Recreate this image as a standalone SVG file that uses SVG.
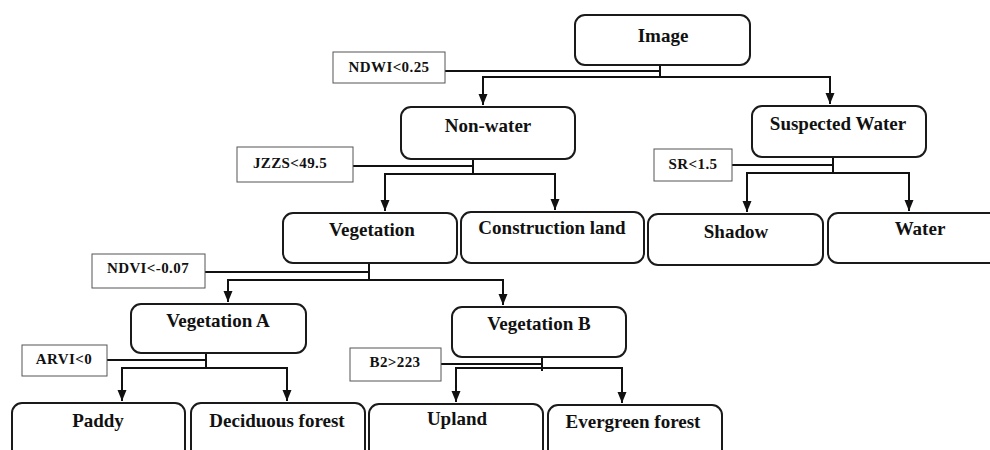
<svg xmlns="http://www.w3.org/2000/svg" width="990" height="450" viewBox="0 0 990 450">
<style>
.node rect{fill:#fff;stroke:#1a1a1a;stroke-width:2}
.node text{font-family:"Liberation Serif","Times New Roman",serif;font-weight:bold;font-size:19px;fill:#111;text-anchor:middle}
.cond rect{fill:#fff;stroke:#555;stroke-width:1}
.cond text{font-family:"Liberation Serif","Times New Roman",serif;font-weight:bold;font-size:15px;fill:#111;text-anchor:middle;letter-spacing:0.4px}
#connectors line{stroke:#111;stroke-width:2;fill:none}
#connectors line.arr{marker-end:url(#ah)}
</style>
<defs>
<marker id="ah" markerUnits="userSpaceOnUse" markerWidth="12" markerHeight="10" viewBox="0 0 12 10" refX="11" refY="5" orient="auto">
<path d="M0,0.5 L11,5 L0,9.5 Z" fill="#111"/>
</marker>
</defs>
<rect width="990" height="450" fill="#fff"/>
<g id="connectors">
<line x1="445" y1="71" x2="660" y2="71"/><line x1="660" y1="65" x2="660" y2="77"/><line x1="482" y1="77" x2="831" y2="77"/>
<line class="arr" x1="483" y1="76" x2="483" y2="105"/><line class="arr" x1="830" y1="76" x2="830" y2="104"/>
<line x1="353" y1="166" x2="473" y2="166"/><line x1="473" y1="159" x2="473" y2="174"/><line x1="384" y1="174" x2="556" y2="174"/>
<line class="arr" x1="385" y1="173" x2="385" y2="211"/><line class="arr" x1="555" y1="173" x2="555" y2="210"/>
<line x1="732" y1="165" x2="833" y2="165"/><line x1="833" y1="157" x2="833" y2="173"/><line x1="746" y1="173" x2="910" y2="173"/>
<line class="arr" x1="747" y1="172" x2="747" y2="212"/><line class="arr" x1="909" y1="172" x2="909" y2="211"/>
<line x1="205" y1="272" x2="369" y2="272"/><line x1="369" y1="263" x2="369" y2="280"/><line x1="227" y1="280" x2="504" y2="280"/>
<line class="arr" x1="228" y1="279" x2="228" y2="302"/><line class="arr" x1="503" y1="279" x2="503" y2="305"/>
<line x1="107" y1="360" x2="206" y2="360"/><line x1="206" y1="353" x2="206" y2="368"/><line x1="121" y1="368" x2="288" y2="368"/>
<line class="arr" x1="122" y1="367" x2="122" y2="401"/><line class="arr" x1="287" y1="367" x2="287" y2="401"/>
<line x1="441" y1="364" x2="542" y2="364"/><line x1="542" y1="357" x2="542" y2="371"/><line x1="455" y1="368" x2="623" y2="368"/>
<line class="arr" x1="456" y1="367" x2="456" y2="402"/><line class="arr" x1="622" y1="367" x2="622" y2="403"/>
</g>
<g id="image" class="node"><rect x="575" y="15" width="175" height="50" rx="10"/><text x="663" y="42">Image</text></g>
<g id="nonwater" class="node"><rect x="401" y="107" width="174" height="52" rx="10"/><text x="488" y="132">Non-water</text></g>
<g id="suspected" class="node"><rect x="752" y="106" width="174" height="51" rx="10"/><text x="838" y="130">Suspected Water</text></g>
<g id="vegetation" class="node"><rect x="283" y="213" width="174" height="50" rx="10"/><text x="372" y="236">Vegetation</text></g>
<g id="construction" class="node"><rect x="461" y="212" width="183" height="51" rx="10"/><text x="552" y="234">Construction land</text></g>
<g id="shadow" class="node"><rect x="648" y="214" width="175" height="51" rx="10"/><text x="736" y="238">Shadow</text></g>
<g id="water" class="node"><rect x="828" y="213" width="175" height="50" rx="10"/><text x="920" y="235">Water</text></g>
<g id="vegA" class="node"><rect x="131" y="304" width="175" height="49" rx="10"/><text x="218" y="327">Vegetation A</text></g>
<g id="vegB" class="node"><rect x="452" y="307" width="174" height="50" rx="10"/><text x="539" y="330">Vegetation B</text></g>
<g id="paddy" class="node"><rect x="12" y="403" width="173" height="60" rx="10"/><text x="98" y="427">Paddy</text></g>
<g id="deciduous" class="node"><rect x="191" y="403" width="174" height="60" rx="10"/><text x="277" y="427">Deciduous forest</text></g>
<g id="upland" class="node"><rect x="369" y="404" width="174" height="60" rx="10"/><text x="457" y="425">Upland</text></g>
<g id="evergreen" class="node"><rect x="548" y="405" width="174" height="60" rx="10"/><text x="633" y="428">Evergreen forest</text></g>
<g id="c-ndwi" class="cond"><rect x="333" y="52" width="112" height="31"/><text x="389" y="72">NDWI&lt;0.25</text></g>
<g id="c-jzzs" class="cond"><rect x="237" y="147" width="116" height="35"/><text x="290" y="168">JZZS&lt;49.5</text></g>
<g id="c-sr" class="cond"><rect x="654" y="149" width="78" height="32"/><text x="693" y="169">SR&lt;1.5</text></g>
<g id="c-ndvi" class="cond"><rect x="92" y="254" width="113" height="34"/><text x="148" y="273">NDVI&lt;-0.07</text></g>
<g id="c-arvi" class="cond"><rect x="22" y="345" width="85" height="31"/><text x="64" y="364">ARVI&lt;0</text></g>
<g id="c-b2" class="cond"><rect x="350" y="348" width="91" height="33"/><text x="395" y="367">B2&gt;223</text></g>
</svg>
